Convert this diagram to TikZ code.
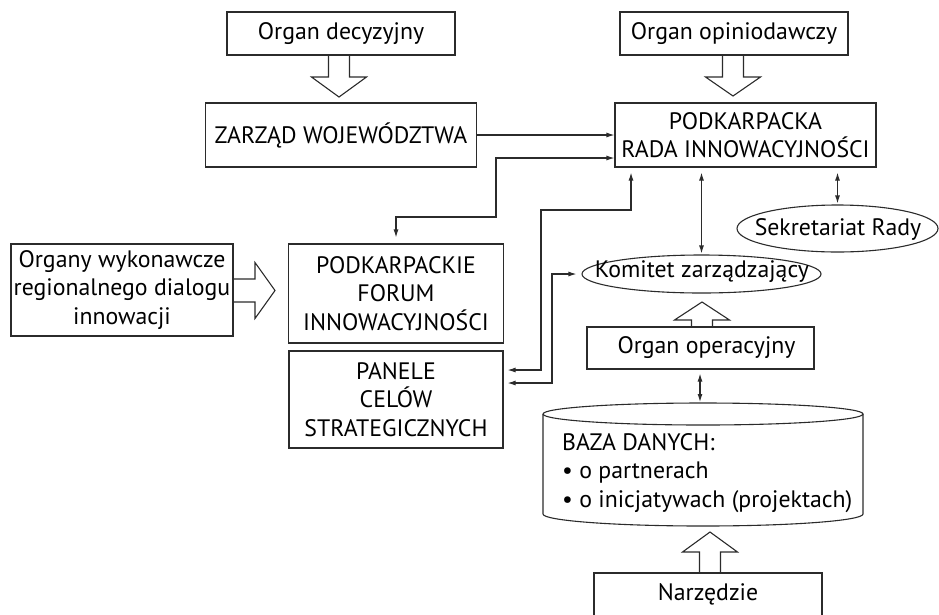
\documentclass[tikz,border=0pt]{standalone}
\usepackage{fontspec}
\setmainfont{PT Sans}
\usetikzlibrary{arrows.meta,calc,shapes.geometric}
\definecolor{lc}{HTML}{2B2B2B}
\newcommand\vblk[4]{\draw[blk] (#1-10.5,#2) -- (#1-10.5,#3) -- (#1-27.5,#3) -- (#1,#4) -- (#1+27.5,#3) -- (#1+10.5,#3) -- (#1+10.5,#2);}
\newcommand\hblk[4]{\draw[blk] (#2,#1-11.5) -- (#3,#1-11.5) -- (#3,#1-28) -- (#4,#1) -- (#3,#1+28) -- (#3,#1+11.5) -- (#2,#1+11.5);}
\begin{document}
\begin{tikzpicture}[x=1pt,y=-1pt,
  every node/.style={font=\fontsize{23.8}{28.5}\selectfont, inner sep=0pt, align=center, text=black},
  box/.style={draw=lc, line width=1.1pt},
  oval/.style={draw=lc, line width=1.1pt, ellipse},
  blk/.style={draw=lc, line width=1.1pt, line join=miter},
  conn/.style={draw=lc, line width=1.1pt},
  one/.style={conn, -{Latex[length=8pt,width=5pt]}},
  two/.style={conn, {Latex[length=8pt,width=5pt]}-{Latex[length=8pt,width=5pt]}}
]
\useasboundingbox (0,0) rectangle (939,614);

% boxes
\node[box, minimum width=228, minimum height=43] (dec) at (341,33.5) {Organ decyzyjny};
\node[box, minimum width=228, minimum height=43] (opin) at (734,33.5) {Organ opiniodawczy};
\node[box, minimum width=271, minimum height=64] (zarzad) at (341,135) {ZARZĄD WOJEWÓDZTWA};
\node[box, minimum width=261, minimum height=64] (rada) at (745.5,135) {PODKARPACKA\\RADA INNOWACYJNOŚCI};
\node[box, minimum width=222, minimum height=92] (organy) at (122,290) {Organy wykonawcze\\regionalnego dialogu\\innowacji};
\node[box, minimum width=215, minimum height=99] (forum) at (396,293.5) {PODKARPACKIE\\FORUM\\INNOWACYJNOŚCI};
\node[box, minimum width=214, minimum height=97] (panele) at (396,399.5) {PANELE\\CELÓW\\STRATEGICZNYCH};
\node[oval, minimum width=201, minimum height=47] (sekr) at (837.5,228.5) {};
\node (sekrt) at (838,229) {Sekretariat Rady};
\node[oval, minimum width=239, minimum height=38] (komitet) at (701.5,274) {};
\node (komitett) at (702,272) {Komitet zarządzający};
\node[box, minimum width=227, minimum height=42] (oper) at (700.5,348) {\hspace*{12pt}Organ operacyjny};
\node[box, minimum width=228, minimum height=43] (narz) at (708,594.5) {Narzędzie};

% database cylinder
\node[minimum width=320, minimum height=124] (baza) at (703,465) {};
\draw[blk] (543,414) arc[start angle=180, end angle=-180, x radius=160, y radius=11];
\draw[blk] (543,414) -- (543,514) arc[start angle=180, end angle=0, x radius=160, y radius=12] -- (863,414);
\node[anchor=west, align=left] (bazat) at (562,473) {BAZA DANYCH:\\• o partnerach\\• o inicjatywach (projektach)};

% block arrows
\vblk{339}{55}{77}{97}
\vblk{733}{55}{77}{96}
\hblk{290.5}{233}{255}{275}
\vblk{702}{327}{320}{302}
\vblk{710}{573}{552}{532}

% connectors
\draw[one] (zarzad.east) -- (zarzad.east -| rada.west);
\draw[two, shorten <=6pt] (forum.north) |- (496,217) |- ($(rada.west)+(0,23)$);
\draw[two, shorten <=4pt, shorten >=5pt] ($(panele.east)+(0,-29.5)$) -| (541,210) -| ($(rada.south)+(-114.5,0)$);
\draw[two, shorten <=4pt, shorten >=5pt] ($(panele.east)+(0,-16.5)$) -| (552,274) -- (komitet.west);
\draw[two, shorten <=5pt, shorten >=1pt] (rada.south -| komitet.north) -- (komitet.north);
\draw[two, shorten <=5pt, shorten >=1pt] (rada.south -| sekr.north) -- (sekr.north);
\draw[two, shorten <=4pt, shorten >=1pt] (oper.south -| 700,0) -- (700,403);
\end{tikzpicture}
\end{document}
